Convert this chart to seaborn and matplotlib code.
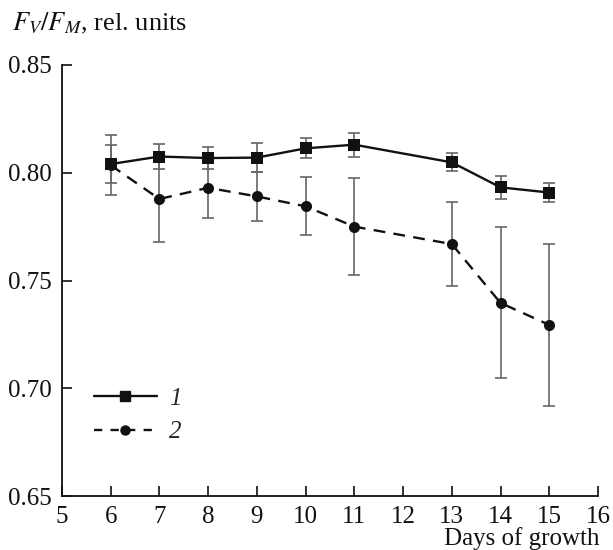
import numpy as np
import pandas as pd
import matplotlib
matplotlib.use("Agg")
import matplotlib.pyplot as plt
import seaborn as sns
from matplotlib.lines import Line2D

# -----------------------------
# Data
# -----------------------------
days = [6, 7, 8, 9, 10, 11, 13, 14, 15]
fvfm_1 = [0.804, 0.8075, 0.8068, 0.807, 0.8113, 0.813, 0.8048, 0.7932, 0.7908]
err_1 = [0.009, 0.006, 0.005, 0.0066, 0.0046, 0.0056, 0.0042, 0.0055, 0.0045]
fvfm_2 = [0.8035, 0.7878, 0.793, 0.789, 0.7844, 0.775, 0.7669, 0.7396, 0.7294]
err_2 = [0.014, 0.020, 0.014, 0.0115, 0.0135, 0.0226, 0.0194, 0.035, 0.0375]

df = pd.DataFrame({
    "day": days * 2,
    "value": fvfm_1 + fvfm_2,
    "err": err_1 + err_2,
    "series": ["1"] * len(days) + ["2"] * len(days),
})

# -----------------------------
# Style
# -----------------------------
sns.set_style("ticks")
plt.rcParams["font.family"] = ["Liberation Serif", "DejaVu Serif"]
plt.rcParams["mathtext.fontset"] = "stix"

FS = 18
fig = plt.figure(figsize=(6.13, 5.50), dpi=100)
ax = fig.add_axes([0.101, 0.098, 0.8745, 0.784])

# error bars first, lines on top
for name, sub in df.groupby("series"):
    ax.errorbar(sub["day"], sub["value"], yerr=sub["err"], fmt="none",
                ecolor="#666666", elinewidth=1.2, capsize=4, capthick=1.2,
                zorder=2)

sns.lineplot(data=df, x="day", y="value", style="series",
             markers={"1": "s", "2": "o"},
             dashes={"1": "", "2": (5, 3.5)},
             color="#111111", linewidth=1.7, markersize=8,
             markeredgewidth=0, legend=False, ax=ax, zorder=3)

# -----------------------------
# Axes
# -----------------------------
ax.set_xlim(5, 16)
ax.set_ylim(0.65, 0.85)
ax.set_xticks(range(5, 17))
ax.set_yticks([0.65, 0.70, 0.75, 0.80, 0.85])
ax.set_yticklabels(["0.65", "0.70", "0.75", "0.80", "0.85"])
ax.tick_params(direction="in", length=7, width=1.2, labelsize=FS,
               colors="#111111", pad=7)
for s in ["top", "right"]:
    ax.spines[s].set_visible(False)
for s in ["left", "bottom"]:
    ax.spines[s].set_linewidth(1.3)
    ax.spines[s].set_color("#111111")
ax.set_xlabel("")
ax.set_ylabel("")

fig.text(0.02, 0.958, r"$F_V/F_M$, rel. units", fontsize=19,
         ha="left", va="center", color="#111111")
fig.text(0.978, 0.021, "Days of growth", fontsize=FS,
         ha="right", va="center", color="#111111")

# -----------------------------
# Legend
# -----------------------------
handles = [
    Line2D([], [], color="#111111", lw=1.7, marker="s", markersize=6.5),
    Line2D([], [], color="#111111", lw=1.7, marker="o", markersize=6.5,
           dashes=(3.5, 3.5)),
]
ax.legend(handles, ["1", "2"], loc="lower left",
          bbox_to_anchor=(0.018, 0.07), frameon=False,
          handlelength=2.5, handletextpad=0.5, labelspacing=0.45,
          prop={"style": "italic", "size": FS})

fig.savefig("out.png", dpi=100)
